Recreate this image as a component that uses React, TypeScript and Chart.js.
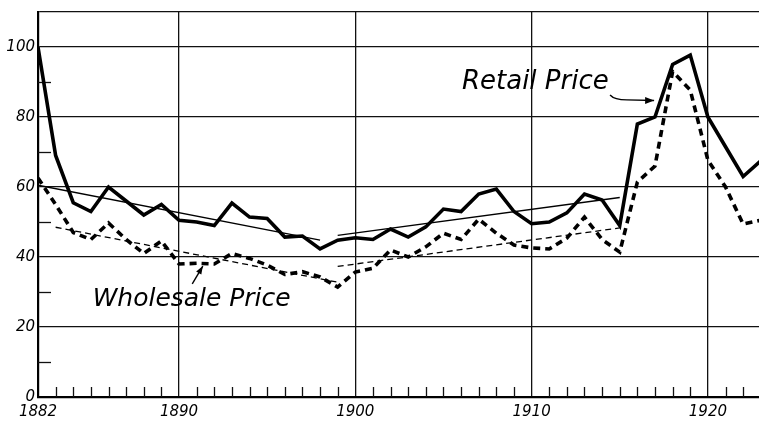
import { useEffect, useRef } from 'react';
import { Chart, registerables } from 'chart.js';

Chart.register(...registerables);

const years = [
  1882, 1883, 1884, 1885, 1886, 1887, 1888, 1889, 1890, 1891,
  1892, 1893, 1894, 1895, 1896, 1897, 1898, 1899, 1900, 1901,
  1902, 1903, 1904, 1905, 1906, 1907, 1908, 1909, 1910, 1911,
  1912, 1913, 1914, 1915, 1916, 1917, 1918, 1919, 1920, 1921,
  1922, 1923,
];

const retailPrice = [
  100, 69, 55.5, 53, 60, 56, 52, 55, 50.5, 50,
  49, 55.4, 51.4, 51, 45.7, 46, 42.3, 44.8, 45.5, 45,
  48, 45.7, 48.6, 53.7, 53, 58, 59.4, 53, 49.5, 50,
  52.6, 58, 56.3, 49, 78, 80, 95, 97.7, 80, 71.5,
  63, 67.5,
];

const wholesalePrice = [
  62.6, 55, 47, 45, 49.7, 45, 41, 44.6, 38, 38.2,
  38, 41, 39.6, 37.7, 35, 35.8, 34.3, 31.4, 35.7, 36.8,
  42, 40, 42.9, 46.8, 45, 50.8, 46.8, 43.4, 42.6, 42.3,
  45.4, 51.4, 45, 41.4, 61.4, 66, 93, 87.7, 67.7, 60,
  49.4, 50.5,
];

const retailTrendEarly = [[1882, 60.5], [1898, 44.8]];
const retailTrendLate = [[1899, 46.2], [1915, 57]];
const wholesaleTrendEarly = [[1883, 48.5], [1899, 32.8]];
const wholesaleTrendLate = [[1899, 37.3], [1915, 48.3]];

const xLabelYears = [1882, 1890, 1900, 1910, 1920];
const yLabelValues = [0, 20, 40, 60, 80, 100];
const yMinorTicks = [10, 30, 50, 70, 90];

const X_MIN = 1882;
const X_MAX = 1922.9;
const Y_MIN = 0;
const Y_MAX = 110;

const pts = (arr: number[][]) => arr.map(([x, y]) => ({ x, y }));

const inwardTicks = {
  id: 'inwardTicks',
  beforeDatasetsDraw(chart: any) {
    const { ctx, chartArea, scales } = chart;
    const x = scales.x;
    const y = scales.y;
    ctx.save();
    ctx.strokeStyle = '#111';
    ctx.lineWidth = 1.3;
    years.forEach((yr) => {
      if (yr > X_MAX || xLabelYears.includes(yr)) return;
      const px = Math.round(x.getPixelForValue(yr)) + 0.5;
      ctx.beginPath();
      ctx.moveTo(px, chartArea.bottom);
      ctx.lineTo(px, chartArea.bottom - 10);
      ctx.stroke();
    });
    yMinorTicks.forEach((v) => {
      const py = Math.round(y.getPixelForValue(v)) + 0.5;
      ctx.beginPath();
      ctx.moveTo(chartArea.left, py);
      ctx.lineTo(chartArea.left + 13, py);
      ctx.stroke();
    });
    ctx.restore();
  },
};

const annotations = {
  id: 'annotations',
  afterDatasetsDraw(chart: any) {
    const { ctx, scales } = chart;
    const x = scales.x;
    const y = scales.y;
    const P = (a: number, b: number) => [x.getPixelForValue(a), y.getPixelForValue(b)];
    ctx.save();
    ctx.fillStyle = '#000';
    ctx.strokeStyle = '#000';
    ctx.textBaseline = 'alphabetic';
    ctx.textAlign = 'left';

    ctx.font = 'italic 200 26px "DejaVu Sans"';
    const [rx, ry] = P(1906.05, 88);
    ctx.fillText('Retail Price', rx, ry, 156);

    ctx.font = 'italic 200 25px "DejaVu Sans"';
    const [wx, wy] = P(1885.1, 26);
    ctx.fillText('Wholesale Price', wx, wy, 198);

    // retail arrow
    ctx.lineWidth = 1.4;
    const [a0x, a0y] = P(1914.45, 86.3);
    const [a1x, a1y] = P(1914.7, 84.9);
    const [a2x, a2y] = P(1915.4, 84.9);
    const [a3x, a3y] = P(1916.95, 84.7);
    ctx.beginPath();
    ctx.moveTo(a0x, a0y);
    ctx.quadraticCurveTo(a1x, a1y, a2x, a2y);
    ctx.lineTo(a3x, a3y);
    ctx.stroke();
    ctx.beginPath();
    ctx.moveTo(a3x, a3y);
    ctx.lineTo(a3x - 9, a3y - 3.5);
    ctx.lineTo(a3x - 9, a3y + 3.5);
    ctx.closePath();
    ctx.fill();

    // wholesale arrow
    const [b0x, b0y] = P(1890.75, 32.3);
    const [b1x, b1y] = P(1891.35, 37.4);
    ctx.beginPath();
    ctx.moveTo(b0x, b0y);
    ctx.lineTo(b1x, b1y);
    ctx.stroke();
    const ang = Math.atan2(b1y - b0y, b1x - b0x);
    ctx.beginPath();
    ctx.moveTo(b1x, b1y);
    ctx.lineTo(b1x - 8 * Math.cos(ang) + 3 * Math.sin(ang), b1y - 8 * Math.sin(ang) - 3 * Math.cos(ang));
    ctx.lineTo(b1x - 8 * Math.cos(ang) - 3 * Math.sin(ang), b1y - 8 * Math.sin(ang) + 3 * Math.cos(ang));
    ctx.closePath();
    ctx.fill();
    ctx.restore();
  },
};

export default function App() {
  const ref = useRef<HTMLCanvasElement | null>(null);

  useEffect(() => {
    if (!ref.current) return;
    const tickFont = { family: '"DejaVu Sans"', style: 'italic' as const, weight: 200, size: 15 };
    const chart = new Chart(ref.current, {
      type: 'line',
      data: {
        datasets: [
          {
            label: 'Retail Price',
            data: years.map((yr, i) => ({ x: yr, y: retailPrice[i] })),
            borderColor: '#000',
            borderWidth: 3.6,
            pointRadius: 0,
            tension: 0,
          },
          {
            label: 'Wholesale Price',
            data: years.map((yr, i) => ({ x: yr, y: wholesalePrice[i] })),
            borderColor: '#000',
            borderWidth: 3.6,
            borderDash: [7, 5],
            pointRadius: 0,
            tension: 0,
          },
          {
            label: 'Retail trend 1882-1898',
            data: pts(retailTrendEarly),
            borderColor: '#000',
            borderWidth: 1.3,
            pointRadius: 0,
          },
          {
            label: 'Retail trend 1899-1915',
            data: pts(retailTrendLate),
            borderColor: '#000',
            borderWidth: 1.3,
            pointRadius: 0,
          },
          {
            label: 'Wholesale trend 1883-1899',
            data: pts(wholesaleTrendEarly),
            borderColor: '#000',
            borderWidth: 1.3,
            borderDash: [6, 4],
            pointRadius: 0,
          },
          {
            label: 'Wholesale trend 1899-1915',
            data: pts(wholesaleTrendLate),
            borderColor: '#000',
            borderWidth: 1.3,
            borderDash: [6, 4],
            pointRadius: 0,
          },
        ],
      },
      options: {
        animation: false,
        responsive: false,
        maintainAspectRatio: false,
        layout: { padding: { top: 12, left: 0, right: 0, bottom: 0 } },
        plugins: { legend: { display: false }, tooltip: { enabled: false }, title: { display: false } },
        scales: {
          x: {
            type: 'linear',
            min: X_MIN,
            max: X_MAX,
            afterBuildTicks: (scale: any) => {
              scale.ticks = years.filter((yr) => yr <= X_MAX).map((yr) => ({ value: yr }));
            },
            afterFit: (scale: any) => {
              scale.height = 26;
            },
            ticks: {
              autoSkip: false,
              maxRotation: 0,
              padding: 6,
              color: '#000',
              font: tickFont,
              callback: (v: any) => (xLabelYears.includes(Number(v)) ? String(v) : ''),
            },
            grid: {
              drawTicks: false,
              lineWidth: 1.3,
              color: (ctx: any) =>
                ctx.tick && xLabelYears.includes(ctx.tick.value) && ctx.tick.value !== X_MIN ? '#111' : 'rgba(0,0,0,0)',
            },
            border: { display: true, color: '#000', width: 2.2 },
          },
          y: {
            min: Y_MIN,
            max: Y_MAX,
            afterFit: (scale: any) => {
              scale.width = 38;
            },
            ticks: {
              stepSize: 10,
              padding: 3,
              color: '#000',
              font: tickFont,
              callback: (v: any) => (yLabelValues.includes(Number(v)) ? String(v) : ''),
            },
            grid: {
              drawTicks: false,
              lineWidth: 1.3,
              color: (ctx: any) =>
                ctx.tick && (yLabelValues.includes(ctx.tick.value) || ctx.tick.value === Y_MAX) ? '#111' : 'rgba(0,0,0,0)',
            },
            border: { display: true, color: '#000', width: 2.2 },
          },
        },
      },
      plugins: [inwardTicks, annotations],
    });
    return () => chart.destroy();
  }, []);

  return (
    <div style={{ position: 'absolute', left: 0, top: 0, width: 759, height: 423, background: '#fff' }}>
      <canvas ref={ref} width={759} height={423} style={{ width: 759, height: 423, display: 'block' }} />
    </div>
  );
}
